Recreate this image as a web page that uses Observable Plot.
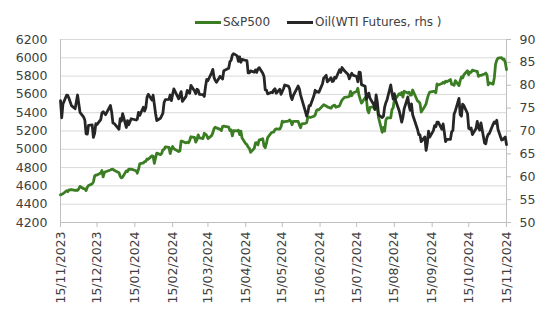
<!DOCTYPE html>
<html><head><meta charset="utf-8">
<script src="https://cdn.jsdelivr.net/npm/d3@7"></script>
<script src="https://cdn.jsdelivr.net/npm/@observablehq/plot@0.6"></script>
<style>
body{margin:0;background:#fff;font-family:"DejaVu Sans",Verdana,sans-serif;}
#legend{height:30px;position:relative;font-size:12px;color:#404040;width:548px;}
.item{position:absolute;top:15px;display:flex;align-items:center;height:14px;white-space:nowrap;}
.sw{display:inline-block;width:26px;height:3px;margin-right:2px;}
</style></head><body>
<div id="legend">
 <div class="item" style="left:195px"><span class="sw" style="background:#3a7d22"></span>S&amp;P500</div>
 <div class="item" style="left:287px"><span class="sw" style="background:#262626"></span>Oil(WTI Futures, rhs )</div>
</div>
<div id="chart"></div>
<script>
const holidays = ["2023-11-23","2023-12-25","2024-01-01","2024-01-15","2024-02-19","2024-03-29","2024-05-27","2024-06-19","2024-07-04","2024-09-02"];
const leftTicks = [4200,4400,4600,4800,5000,5200,5400,5600,5800,6000,6200];
const rightTicks = [50,55,60,65,70,75,80,85,90];
const spx = [
4502,4508,4514,4547,4538,4556,4559,4550,4554,4551,4568,
4595,4569,4567,4549,4585,4604,4622,4644,4707,4720,4719,4740,4768,4698,4746,4755,4774,4781,4783,4770,
4743,4705,4688,4697,4764,4756,4783,4780,4784,4766,4739,4780,4840,4851,4865,4869,4894,4891,4928,4925,4846,
4906,4959,4942,4954,4995,4998,5027,5022,4953,5001,5030,5006,4976,4982,5088,5089,5070,5078,5070,5096,
5137,5131,5079,5105,5158,5124,5118,5175,5166,5151,5117,5149,5179,5225,5241,5234,5218,5204,5248,5254,
5243,5206,5211,5147,5204,5202,5209,5161,5199,5123,5061,5051,5022,5011,4967,5010,5070,5072,5048,5100,5116,5036,
5018,5064,5128,5181,5187,5187,5214,5223,5221,5247,5308,5297,5303,5308,5321,5307,5268,5305,5306,5267,5235,5278,
5283,5291,5354,5353,5347,5361,5375,5421,5434,5431,5473,5487,5473,5464,5448,5469,5478,5483,5460,
5475,5509,5537,5567,5572,5577,5633,5585,5615,5631,5667,5589,5545,5505,5564,5555,5427,5399,5459,5464,5436,5522,
5446,5347,5186,5240,5199,5319,5344,5344,5434,5455,5543,5554,5608,5597,5620,5571,5635,5616,5625,5592,5592,5648,
5528,5520,5503,5408,5471,5496,5554,5596,5626,5633,5634,5618,5714,5703,5719,5732,5722,5745,5738,5762,
5709,5709,5699,5751,5696,5751,5792,5780,5815,5859,5815,5843,5841,5865,5853,5851,5797,5809,5808,5823,5833,5813,5705,
5728,5712,5782,5929,5973,5996,6001,5984,5985,5949,5871];
const wti = [
76.66,72.90,75.89,77.83,77.77,77.10,75.54,74.86,76.41,77.86,75.96,
74.07,73.04,72.32,69.38,69.34,71.23,71.32,68.61,69.47,71.58,71.43,72.47,73.94,74.22,73.89,73.56,75.57,74.11,71.77,71.65,
70.38,72.70,72.19,73.81,70.77,72.24,71.37,72.02,72.68,72.40,72.56,74.08,73.41,75.19,74.37,75.09,77.36,78.01,76.78,77.82,75.85,
73.82,72.28,72.78,73.31,73.86,76.22,76.84,76.92,77.87,76.64,78.03,79.19,77.04,77.91,78.61,76.49,77.58,78.87,78.54,78.26,
79.97,78.74,78.15,79.13,78.93,78.01,77.93,77.56,79.72,81.26,81.04,82.72,83.47,81.68,81.07,80.63,81.95,81.62,81.35,83.17,
83.71,85.15,85.43,86.59,86.91,86.43,85.23,86.21,85.02,85.66,85.41,85.36,82.69,82.73,83.14,82.85,83.36,82.81,83.57,83.85,82.63,81.93,
79.00,78.95,78.11,78.48,78.38,78.99,79.26,78.26,79.12,78.02,78.63,79.23,80.06,79.80,79.26,77.57,76.87,77.72,79.83,79.23,77.91,76.99,
74.22,73.25,74.07,75.55,75.53,77.74,78.90,78.50,78.62,78.45,80.33,81.57,82.17,80.73,81.63,80.83,80.90,81.74,81.54,
83.38,82.81,83.88,83.16,82.33,81.41,82.10,82.62,82.21,81.91,80.76,82.85,82.82,80.13,79.78,76.96,77.59,78.28,77.16,75.81,74.73,77.91,
76.31,73.52,72.94,73.20,75.23,76.19,76.84,80.06,78.35,76.98,78.16,76.65,74.37,73.17,71.93,73.01,74.83,77.42,75.53,74.52,75.91,73.55,
70.34,69.20,69.15,67.67,68.71,65.75,67.31,69.97,68.65,70.09,71.19,70.91,71.95,71.92,70.37,71.56,69.69,67.67,68.18,68.17,
69.83,70.10,73.71,74.38,77.14,73.57,73.24,75.85,75.56,73.83,70.58,70.39,70.67,69.22,70.56,72.09,70.77,70.19,71.78,67.38,67.21,68.61,69.26,
69.49,71.47,71.99,71.69,72.36,70.38,68.04,68.12,68.43,68.70,67.02];

const start = new Date(Date.UTC(2023,10,15));
const end = new Date(Date.UTC(2024,10,15));
const fmtDay = d3.utcFormat("%Y-%m-%d");
const dates = d3.utcDay.range(start, d3.utcDay.offset(end,1))
  .filter(d => d.getUTCDay() % 6 !== 0 && !holidays.includes(fmtDay(d)));
const n = Math.min(dates.length, spx.length, wti.length);
const data = d3.range(n).map(i => ({date: dates[i], spx: spx[i], wti: wti[i]}));
const monthTicks = d3.range(0,13).map(i => new Date(Date.UTC(2023,10+i,15)));
const toLeft = v => 4200 + (v - 50) * 50;

const chart = Plot.plot({
  width: 548, height: 294,
  marginTop: 9, marginBottom: 102, marginLeft: 60, marginRight: 42,
  x: {type: "utc", domain: [start, end]},
  y: {domain: [4200, 6200]},
  style: {fontFamily: '"DejaVu Sans", Verdana, sans-serif', fontSize: "12.5px", color: "#404040", background: "#fff", overflow: "visible"},
  marks: [
    Plot.gridY({ticks: leftTicks, stroke: "#d9d9d9", strokeOpacity: 1}),
    Plot.ruleX([start, end], {stroke: "#bfbfbf"}),
    Plot.ruleY([4200], {stroke: "#bfbfbf"}),
    Plot.axisY({anchor: "left", ticks: leftTicks, tickFormat: d => String(d), tickSize: 0, tickPadding: 13, label: null}),
    Plot.axisY({anchor: "right", ticks: rightTicks.map(toLeft), tickFormat: d => String(Math.round((d - 4200) / 50 + 50)), tickSize: 4, stroke: "#bfbfbf", strokeOpacity: 1, tickPadding: 9, label: null}),
    Plot.axisX({ticks: monthTicks, tickFormat: d3.utcFormat("%d/%m/%Y"), tickRotate: -90, tickSize: 5, stroke: "#bfbfbf", strokeOpacity: 1, tickPadding: 4, label: null}),
    Plot.lineY(data, {x: "date", y: "spx", stroke: "#3a7d22", strokeWidth: 2.8}),
    Plot.lineY(data, {x: "date", y: d => toLeft(d.wti), stroke: "#262626", strokeWidth: 2.8})
  ]
});
document.getElementById("chart").appendChild(chart);
</script>
</body></html>
